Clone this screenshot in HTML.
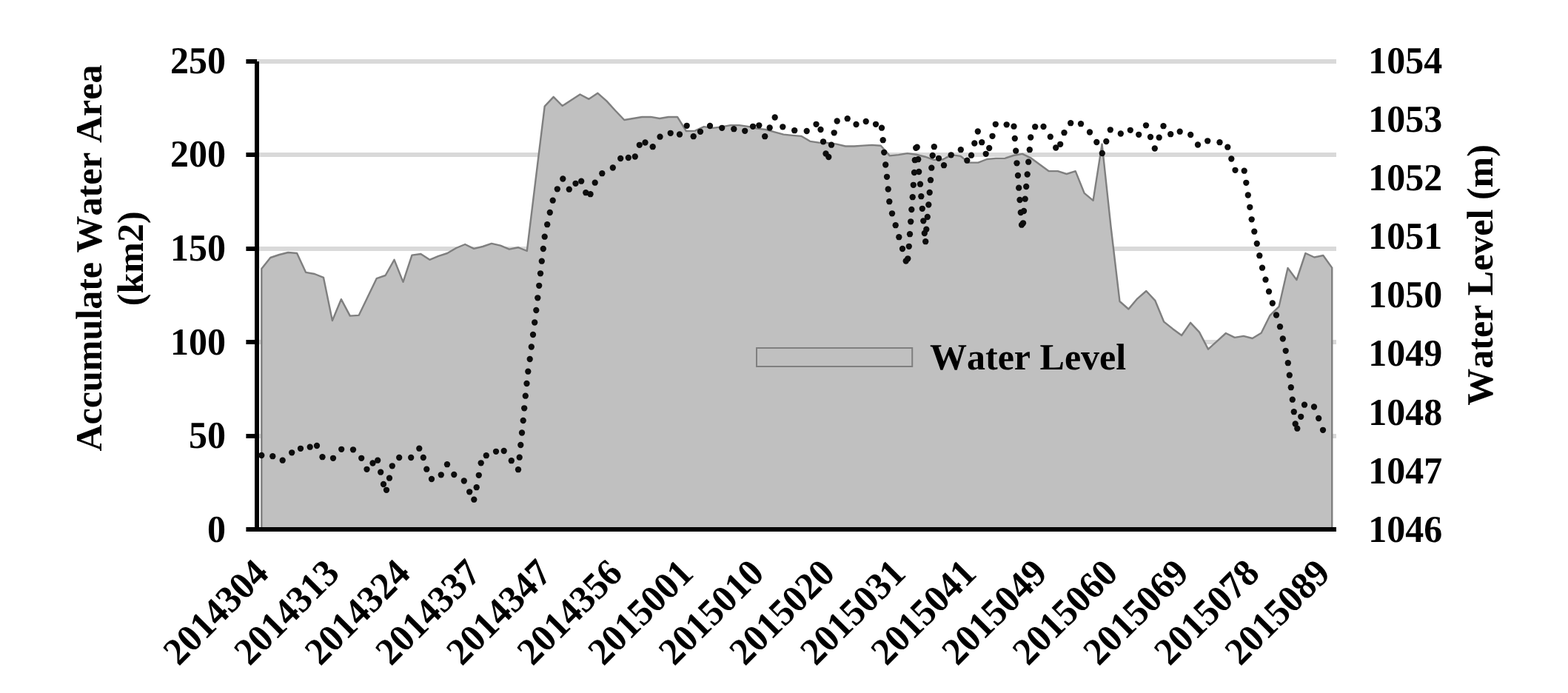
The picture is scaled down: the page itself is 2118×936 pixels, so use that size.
<!DOCTYPE html>
<html lang="en"><head><meta charset="utf-8"><title>Accumulate Water Area and Water Level</title>
<style>html,body{margin:0;padding:0;background:#fff}body{width:2118px;height:936px;overflow:hidden}svg{display:block}text{font-family:"Liberation Serif","Times New Roman",serif;font-weight:bold;font-size:50px;fill:#000;font-kerning:none;text-rendering:geometricPrecision}</style>
</head><body>
<svg width="2118" height="936" viewBox="0 0 2118 936">
<rect width="2118" height="936" fill="#fff"/>
<g fill="#d9d9d9">
<rect x="347" y="80" width="1458" height="6"/>
<rect x="347" y="206" width="1458" height="6"/>
<rect x="347" y="333" width="1458" height="6"/>
<rect x="347" y="459" width="1458" height="6"/>
<rect x="347" y="586" width="1458" height="6"/>
</g>
<path d="M353.30 715.00 L353.30 363.00 L365.25 348.00 L377.20 344.00 L389.15 341.00 L401.10 342.00 L413.05 367.83 L425.00 370.00 L436.95 374.83 L448.90 433.00 L460.85 404.17 L472.80 426.67 L484.75 425.83 L496.70 401.00 L508.65 376.17 L520.60 372.00 L532.55 350.83 L544.50 380.83 L556.45 344.67 L568.40 343.00 L580.35 350.83 L592.30 345.83 L604.25 342.00 L616.20 335.00 L628.15 330.00 L640.10 335.83 L652.05 333.00 L664.00 328.83 L675.95 331.67 L687.90 336.67 L699.85 334.20 L711.80 339.00 L723.75 241.00 L735.70 143.67 L747.65 130.83 L759.60 143.00 L771.55 135.33 L783.50 127.50 L795.45 133.83 L807.40 125.83 L819.35 136.33 L831.30 149.50 L843.25 162.00 L855.20 160.00 L867.15 158.00 L879.10 157.83 L891.05 160.00 L903.00 158.00 L914.95 157.83 L926.90 177.00 L938.85 176.67 L950.80 171.17 L962.75 172.83 L974.70 171.33 L986.65 169.17 L998.60 169.17 L1010.55 170.83 L1022.50 173.67 L1034.45 175.00 L1046.40 178.33 L1058.35 181.67 L1070.30 182.83 L1082.25 183.83 L1094.20 190.83 L1106.15 192.67 L1118.10 193.00 L1130.05 194.67 L1142.00 197.50 L1153.95 197.50 L1165.90 196.67 L1177.85 195.83 L1189.80 196.73 L1201.75 210.40 L1213.70 209.07 L1225.65 207.07 L1237.60 208.73 L1249.55 211.73 L1261.50 215.90 L1273.45 215.40 L1285.40 209.17 L1297.35 210.83 L1309.30 219.67 L1321.25 219.67 L1333.20 215.00 L1345.15 213.83 L1357.10 213.83 L1369.05 210.00 L1381.00 207.83 L1392.95 213.67 L1404.90 222.50 L1416.85 231.17 L1428.80 231.17 L1440.75 235.00 L1452.70 231.17 L1464.65 260.83 L1476.60 270.83 L1488.55 194.67 L1500.50 306.00 L1512.45 407.00 L1524.40 417.50 L1536.35 403.33 L1548.30 393.00 L1560.25 405.83 L1572.20 434.67 L1584.15 444.17 L1596.10 453.00 L1608.05 435.83 L1620.00 448.67 L1631.95 471.67 L1643.90 460.83 L1655.85 450.00 L1667.80 455.83 L1679.75 453.83 L1691.70 457.00 L1703.65 449.67 L1715.60 425.83 L1727.55 414.17 L1739.50 362.00 L1751.45 378.00 L1763.40 342.00 L1775.35 347.50 L1787.30 345.00 L1799.25 361.67 L1799.25 715.00 Z" fill="#c0c0c0" stroke="#7f7f7f" stroke-width="2.4" stroke-linejoin="round"/>
<g fill="#000">
<rect x="344" y="83" width="6" height="635"/>
<rect x="332.4" y="712" width="1472.6" height="6"/>
<rect x="332.4" y="80" width="14.6" height="6"/>
<rect x="332.4" y="206" width="14.6" height="6"/>
<rect x="332.4" y="333" width="14.6" height="6"/>
<rect x="332.4" y="459" width="14.6" height="6"/>
<rect x="332.4" y="586" width="14.6" height="6"/>
</g>
<g fill="#0d0d0d">
<circle cx="353.3" cy="615.0" r="4.15"/>
<circle cx="368.3" cy="616.2" r="4.15"/>
<circle cx="381.7" cy="621.7" r="4.15"/>
<circle cx="394.2" cy="611.3" r="4.15"/>
<circle cx="406.0" cy="605.8" r="4.15"/>
<circle cx="418.7" cy="603.7" r="4.15"/>
<circle cx="428.0" cy="602.0" r="4.15"/>
<circle cx="435.5" cy="617.2" r="4.15"/>
<circle cx="450.0" cy="618.8" r="4.15"/>
<circle cx="461.2" cy="606.8" r="4.15"/>
<circle cx="477.0" cy="607.3" r="4.15"/>
<circle cx="488.2" cy="618.8" r="4.15"/>
<circle cx="495.5" cy="633.8" r="4.15"/>
<circle cx="503.5" cy="625.5" r="4.15"/>
<circle cx="510.2" cy="621.7" r="4.15"/>
<circle cx="514.2" cy="637.7" r="4.15"/>
<circle cx="518.0" cy="654.0" r="4.15"/>
<circle cx="522.0" cy="661.8" r="4.15"/>
<circle cx="526.0" cy="645.7" r="4.15"/>
<circle cx="529.8" cy="629.3" r="4.15"/>
<circle cx="539.2" cy="618.0" r="4.15"/>
<circle cx="555.2" cy="618.0" r="4.15"/>
<circle cx="566.3" cy="605.7" r="4.15"/>
<circle cx="571.8" cy="618.0" r="4.15"/>
<circle cx="576.3" cy="633.7" r="4.15"/>
<circle cx="583.0" cy="647.0" r="4.15"/>
<circle cx="595.8" cy="641.3" r="4.15"/>
<circle cx="604.0" cy="627.2" r="4.15"/>
<circle cx="613.3" cy="641.0" r="4.15"/>
<circle cx="626.8" cy="649.5" r="4.15"/>
<circle cx="634.2" cy="664.3" r="4.15"/>
<circle cx="640.3" cy="674.7" r="4.15"/>
<circle cx="643.7" cy="658.2" r="4.15"/>
<circle cx="646.8" cy="641.8" r="4.15"/>
<circle cx="649.7" cy="625.3" r="4.15"/>
<circle cx="656.8" cy="615.2" r="4.15"/>
<circle cx="670.0" cy="609.8" r="4.15"/>
<circle cx="680.7" cy="609.0" r="4.15"/>
<circle cx="690.8" cy="622.2" r="4.15"/>
<circle cx="700.0" cy="634.2" r="4.15"/>
<circle cx="701.7" cy="617.7" r="4.15"/>
<circle cx="703.3" cy="601.0" r="4.15"/>
<circle cx="705.0" cy="584.5" r="4.15"/>
<circle cx="706.7" cy="568.0" r="4.15"/>
<circle cx="708.2" cy="551.3" r="4.15"/>
<circle cx="709.8" cy="534.7" r="4.15"/>
<circle cx="711.5" cy="518.0" r="4.15"/>
<circle cx="713.3" cy="501.7" r="4.15"/>
<circle cx="715.7" cy="485.0" r="4.15"/>
<circle cx="717.8" cy="468.5" r="4.15"/>
<circle cx="720.0" cy="452.0" r="4.15"/>
<circle cx="722.2" cy="435.5" r="4.15"/>
<circle cx="724.3" cy="419.0" r="4.15"/>
<circle cx="726.3" cy="402.3" r="4.15"/>
<circle cx="728.2" cy="385.8" r="4.15"/>
<circle cx="730.0" cy="369.3" r="4.15"/>
<circle cx="731.8" cy="352.7" r="4.15"/>
<circle cx="733.8" cy="336.0" r="4.15"/>
<circle cx="735.7" cy="319.7" r="4.15"/>
<circle cx="739.2" cy="303.2" r="4.15"/>
<circle cx="742.8" cy="287.0" r="4.15"/>
<circle cx="746.7" cy="270.7" r="4.15"/>
<circle cx="752.8" cy="255.3" r="4.15"/>
<circle cx="760.3" cy="241.5" r="4.15"/>
<circle cx="768.8" cy="255.7" r="4.15"/>
<circle cx="777.5" cy="247.8" r="4.15"/>
<circle cx="785.2" cy="244.7" r="4.15"/>
<circle cx="791.3" cy="260.2" r="4.15"/>
<circle cx="797.5" cy="262.2" r="4.15"/>
<circle cx="803.7" cy="246.7" r="4.15"/>
<circle cx="813.3" cy="234.2" r="4.15"/>
<circle cx="827.8" cy="226.5" r="4.15"/>
<circle cx="838.2" cy="214.0" r="4.15"/>
<circle cx="848.8" cy="213.0" r="4.15"/>
<circle cx="857.8" cy="211.5" r="4.15"/>
<circle cx="863.8" cy="195.8" r="4.15"/>
<circle cx="871.5" cy="192.5" r="4.15"/>
<circle cx="881.7" cy="198.2" r="4.15"/>
<circle cx="891.5" cy="184.7" r="4.15"/>
<circle cx="905.7" cy="179.8" r="4.15"/>
<circle cx="918.0" cy="181.5" r="4.15"/>
<circle cx="927.7" cy="169.8" r="4.15"/>
<circle cx="936.7" cy="184.2" r="4.15"/>
<circle cx="946.0" cy="177.8" r="4.15"/>
<circle cx="959.0" cy="170.0" r="4.15"/>
<circle cx="975.2" cy="172.8" r="4.15"/>
<circle cx="991.3" cy="174.2" r="4.15"/>
<circle cx="1006.2" cy="176.8" r="4.15"/>
<circle cx="1017.0" cy="170.8" r="4.15"/>
<circle cx="1025.3" cy="169.3" r="4.15"/>
<circle cx="1033.2" cy="184.2" r="4.15"/>
<circle cx="1039.7" cy="172.5" r="4.15"/>
<circle cx="1046.7" cy="158.5" r="4.15"/>
<circle cx="1057.3" cy="171.3" r="4.15"/>
<circle cx="1073.2" cy="176.2" r="4.15"/>
<circle cx="1089.7" cy="177.0" r="4.15"/>
<circle cx="1102.5" cy="167.8" r="4.15"/>
<circle cx="1108.5" cy="175.0" r="4.15"/>
<circle cx="1112.0" cy="191.3" r="4.15"/>
<circle cx="1115.5" cy="207.5" r="4.15"/>
<circle cx="1119.3" cy="212.0" r="4.15"/>
<circle cx="1123.0" cy="195.7" r="4.15"/>
<circle cx="1126.7" cy="179.3" r="4.15"/>
<circle cx="1130.7" cy="163.5" r="4.15"/>
<circle cx="1144.7" cy="160.2" r="4.15"/>
<circle cx="1156.5" cy="168.0" r="4.15"/>
<circle cx="1169.7" cy="164.0" r="4.15"/>
<circle cx="1183.0" cy="167.8" r="4.15"/>
<circle cx="1191.0" cy="172.7" r="4.15"/>
<circle cx="1192.7" cy="189.2" r="4.15"/>
<circle cx="1194.2" cy="205.8" r="4.15"/>
<circle cx="1196.2" cy="222.5" r="4.15"/>
<circle cx="1198.0" cy="238.8" r="4.15"/>
<circle cx="1199.7" cy="255.5" r="4.15"/>
<circle cx="1201.3" cy="272.2" r="4.15"/>
<circle cx="1205.0" cy="288.3" r="4.15"/>
<circle cx="1209.7" cy="304.2" r="4.15"/>
<circle cx="1214.3" cy="320.2" r="4.15"/>
<circle cx="1219.0" cy="336.0" r="4.15"/>
<circle cx="1223.7" cy="352.5" r="4.15"/>
<circle cx="1226.3" cy="349.3" r="4.15"/>
<circle cx="1227.8" cy="332.8" r="4.15"/>
<circle cx="1229.0" cy="316.2" r="4.15"/>
<circle cx="1230.2" cy="299.3" r="4.15"/>
<circle cx="1231.3" cy="283.0" r="4.15"/>
<circle cx="1232.7" cy="266.2" r="4.15"/>
<circle cx="1233.8" cy="249.8" r="4.15"/>
<circle cx="1235.0" cy="233.0" r="4.15"/>
<circle cx="1235.8" cy="216.2" r="4.15"/>
<circle cx="1237.2" cy="199.8" r="4.15"/>
<circle cx="1238.7" cy="198.7" r="4.15"/>
<circle cx="1240.2" cy="215.2" r="4.15"/>
<circle cx="1241.2" cy="232.0" r="4.15"/>
<circle cx="1243.0" cy="248.7" r="4.15"/>
<circle cx="1244.3" cy="265.2" r="4.15"/>
<circle cx="1245.8" cy="281.8" r="4.15"/>
<circle cx="1247.3" cy="298.3" r="4.15"/>
<circle cx="1248.8" cy="315.0" r="4.15"/>
<circle cx="1250.2" cy="326.2" r="4.15"/>
<circle cx="1251.3" cy="309.7" r="4.15"/>
<circle cx="1252.8" cy="293.0" r="4.15"/>
<circle cx="1254.3" cy="276.5" r="4.15"/>
<circle cx="1255.7" cy="260.0" r="4.15"/>
<circle cx="1257.0" cy="243.2" r="4.15"/>
<circle cx="1258.3" cy="226.7" r="4.15"/>
<circle cx="1259.7" cy="210.0" r="4.15"/>
<circle cx="1261.8" cy="198.2" r="4.15"/>
<circle cx="1268.0" cy="213.8" r="4.15"/>
<circle cx="1275.0" cy="223.2" r="4.15"/>
<circle cx="1284.7" cy="209.3" r="4.15"/>
<circle cx="1297.8" cy="202.2" r="4.15"/>
<circle cx="1306.3" cy="216.7" r="4.15"/>
<circle cx="1312.0" cy="209.7" r="4.15"/>
<circle cx="1316.3" cy="193.5" r="4.15"/>
<circle cx="1320.8" cy="177.5" r="4.15"/>
<circle cx="1326.2" cy="192.2" r="4.15"/>
<circle cx="1331.7" cy="207.8" r="4.15"/>
<circle cx="1336.2" cy="200.0" r="4.15"/>
<circle cx="1340.5" cy="183.8" r="4.15"/>
<circle cx="1344.8" cy="167.8" r="4.15"/>
<circle cx="1359.7" cy="168.3" r="4.15"/>
<circle cx="1369.5" cy="170.7" r="4.15"/>
<circle cx="1370.8" cy="187.0" r="4.15"/>
<circle cx="1372.2" cy="203.7" r="4.15"/>
<circle cx="1373.5" cy="220.3" r="4.15"/>
<circle cx="1375.0" cy="237.0" r="4.15"/>
<circle cx="1376.2" cy="253.7" r="4.15"/>
<circle cx="1377.5" cy="270.0" r="4.15"/>
<circle cx="1378.8" cy="287.0" r="4.15"/>
<circle cx="1380.0" cy="303.7" r="4.15"/>
<circle cx="1382.0" cy="301.3" r="4.15"/>
<circle cx="1383.0" cy="285.0" r="4.15"/>
<circle cx="1384.7" cy="268.7" r="4.15"/>
<circle cx="1386.2" cy="252.0" r="4.15"/>
<circle cx="1387.7" cy="235.5" r="4.15"/>
<circle cx="1389.2" cy="218.7" r="4.15"/>
<circle cx="1390.8" cy="202.2" r="4.15"/>
<circle cx="1392.2" cy="185.5" r="4.15"/>
<circle cx="1398.2" cy="171.2" r="4.15"/>
<circle cx="1409.5" cy="171.0" r="4.15"/>
<circle cx="1418.8" cy="184.7" r="4.15"/>
<circle cx="1426.2" cy="199.5" r="4.15"/>
<circle cx="1432.2" cy="194.8" r="4.15"/>
<circle cx="1437.5" cy="179.2" r="4.15"/>
<circle cx="1446.2" cy="166.2" r="4.15"/>
<circle cx="1460.0" cy="167.2" r="4.15"/>
<circle cx="1472.0" cy="178.5" r="4.15"/>
<circle cx="1481.3" cy="192.0" r="4.15"/>
<circle cx="1488.8" cy="207.0" r="4.15"/>
<circle cx="1494.3" cy="191.0" r="4.15"/>
<circle cx="1499.8" cy="175.3" r="4.15"/>
<circle cx="1513.8" cy="180.5" r="4.15"/>
<circle cx="1526.8" cy="175.8" r="4.15"/>
<circle cx="1538.2" cy="181.8" r="4.15"/>
<circle cx="1548.0" cy="169.3" r="4.15"/>
<circle cx="1554.0" cy="185.0" r="4.15"/>
<circle cx="1559.8" cy="200.5" r="4.15"/>
<circle cx="1565.7" cy="185.7" r="4.15"/>
<circle cx="1571.5" cy="170.2" r="4.15"/>
<circle cx="1581.2" cy="181.2" r="4.15"/>
<circle cx="1593.7" cy="177.7" r="4.15"/>
<circle cx="1608.2" cy="182.0" r="4.15"/>
<circle cx="1618.0" cy="195.5" r="4.15"/>
<circle cx="1631.2" cy="190.3" r="4.15"/>
<circle cx="1647.5" cy="192.2" r="4.15"/>
<circle cx="1658.3" cy="198.7" r="4.15"/>
<circle cx="1663.3" cy="214.5" r="4.15"/>
<circle cx="1668.5" cy="229.8" r="4.15"/>
<circle cx="1680.7" cy="230.7" r="4.15"/>
<circle cx="1683.3" cy="246.8" r="4.15"/>
<circle cx="1685.8" cy="263.5" r="4.15"/>
<circle cx="1688.3" cy="279.8" r="4.15"/>
<circle cx="1690.7" cy="296.3" r="4.15"/>
<circle cx="1694.3" cy="312.7" r="4.15"/>
<circle cx="1697.8" cy="329.0" r="4.15"/>
<circle cx="1701.3" cy="345.2" r="4.15"/>
<circle cx="1705.0" cy="361.7" r="4.15"/>
<circle cx="1709.5" cy="377.7" r="4.15"/>
<circle cx="1714.0" cy="393.7" r="4.15"/>
<circle cx="1718.8" cy="409.5" r="4.15"/>
<circle cx="1724.0" cy="425.5" r="4.15"/>
<circle cx="1729.0" cy="441.2" r="4.15"/>
<circle cx="1732.8" cy="457.5" r="4.15"/>
<circle cx="1736.7" cy="473.8" r="4.15"/>
<circle cx="1739.8" cy="490.2" r="4.15"/>
<circle cx="1741.8" cy="506.7" r="4.15"/>
<circle cx="1743.8" cy="523.2" r="4.15"/>
<circle cx="1745.8" cy="539.7" r="4.15"/>
<circle cx="1747.8" cy="556.2" r="4.15"/>
<circle cx="1749.7" cy="572.5" r="4.15"/>
<circle cx="1752.3" cy="578.7" r="4.15"/>
<circle cx="1757.2" cy="562.8" r="4.15"/>
<circle cx="1762.0" cy="546.7" r="4.15"/>
<circle cx="1775.0" cy="549.5" r="4.15"/>
<circle cx="1781.2" cy="565.0" r="4.15"/>
<circle cx="1787.0" cy="580.8" r="4.15"/>
</g>
<g text-anchor="end">
<text transform="translate(305 98.80) scale(1 1.03)">250</text>
<text transform="translate(305 225.40) scale(1 1.03)">200</text>
<text transform="translate(305 352.00) scale(1 1.03)">150</text>
<text transform="translate(305 478.60) scale(1 1.03)">100</text>
<text transform="translate(305 605.20) scale(1 1.03)">50</text>
<text transform="translate(305 731.80) scale(1 1.03)">0</text>
</g>
<g text-anchor="start">
<text transform="translate(1848.3 98.80) scale(1 1.03)">1054</text>
<text transform="translate(1848.3 177.93) scale(1 1.03)">1053</text>
<text transform="translate(1848.3 257.05) scale(1 1.03)">1052</text>
<text transform="translate(1848.3 336.18) scale(1 1.03)">1051</text>
<text transform="translate(1848.3 415.30) scale(1 1.03)">1050</text>
<text transform="translate(1848.3 494.43) scale(1 1.03)">1049</text>
<text transform="translate(1848.3 573.55) scale(1 1.03)">1048</text>
<text transform="translate(1848.3 652.67) scale(1 1.03)">1047</text>
<text transform="translate(1848.3 731.80) scale(1 1.03)">1046</text>
</g>
<g text-anchor="end">
<text transform="translate(365.30 776.70) rotate(-45) scale(1 1.03)">2014304</text>
<text transform="translate(460.90 776.70) rotate(-45) scale(1 1.03)">2014313</text>
<text transform="translate(556.50 776.70) rotate(-45) scale(1 1.03)">2014324</text>
<text transform="translate(652.10 776.70) rotate(-45) scale(1 1.03)">2014337</text>
<text transform="translate(747.70 776.70) rotate(-45) scale(1 1.03)">2014347</text>
<text transform="translate(843.30 776.70) rotate(-45) scale(1 1.03)">2014356</text>
<text transform="translate(938.90 776.70) rotate(-45) scale(1 1.03)">2015001</text>
<text transform="translate(1034.50 776.70) rotate(-45) scale(1 1.03)">2015010</text>
<text transform="translate(1130.10 776.70) rotate(-45) scale(1 1.03)">2015020</text>
<text transform="translate(1225.70 776.70) rotate(-45) scale(1 1.03)">2015031</text>
<text transform="translate(1321.30 776.70) rotate(-45) scale(1 1.03)">2015041</text>
<text transform="translate(1416.90 776.70) rotate(-45) scale(1 1.03)">2015049</text>
<text transform="translate(1512.50 776.70) rotate(-45) scale(1 1.03)">2015060</text>
<text transform="translate(1608.10 776.70) rotate(-45) scale(1 1.03)">2015069</text>
<text transform="translate(1703.70 776.70) rotate(-45) scale(1 1.03)">2015078</text>
<text transform="translate(1799.30 776.70) rotate(-45) scale(1 1.03)">2015089</text>
</g>
<g text-anchor="middle">
<text transform="translate(137 348.5) rotate(-90)">Accumulate Water Area</text>
<text transform="translate(193.3 349.3) rotate(-90)">(km2)</text>
<text transform="translate(2015.6 371.4) rotate(-90)">Water Level (m)</text>
</g>
<rect x="1022" y="470" width="210.2" height="25" fill="#c0c0c0" stroke="#7f7f7f" stroke-width="2"/>
<text x="1256" y="499.3">Water Level</text>
</svg></body></html>
